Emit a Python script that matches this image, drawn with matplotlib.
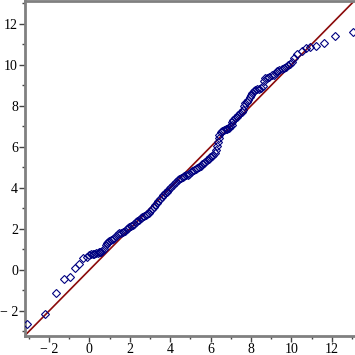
import matplotlib
matplotlib.use("Agg")
import matplotlib.pyplot as plt
from matplotlib.ticker import MultipleLocator, FuncFormatter

theoretical = [-3.07, -2.20, -1.64, -1.26, -0.95, -0.70, -0.50, -0.30, -0.13, -0.02,
               0.10, 0.16, 0.25, 0.33, 0.40, 0.46, 0.52, 0.57, 0.64, 0.72,
               0.80, 0.86, 0.93, 0.99, 1.07, 1.15, 1.23, 1.32, 1.40, 1.48,
               1.58, 1.68, 1.76, 1.85, 1.92, 1.98, 2.06, 2.14, 2.22, 2.30,
               2.38, 2.46, 2.54, 2.62, 2.70, 2.78, 2.86, 2.94, 3.02, 3.10,
               3.18, 3.26, 3.34, 3.42, 3.50, 3.58, 3.66, 3.74, 3.82, 3.90,
               3.98, 4.06, 4.14, 4.22, 4.30, 4.38, 4.46, 4.54, 4.62, 4.70,
               4.78, 4.86, 4.94, 5.02, 5.10, 5.18, 5.26, 5.34, 5.42, 5.50,
               5.58, 5.66, 5.74, 5.82, 5.90, 5.98, 6.06, 6.14, 6.22, 6.28,
               6.32, 6.36, 6.40, 6.44, 6.50, 6.58, 6.66, 6.74, 6.82, 6.90,
               6.98, 7.04, 7.08, 7.12, 7.20, 7.29, 7.38, 7.46, 7.54, 7.60,
               7.66, 7.72, 7.80, 7.87, 7.94, 8.00, 8.06, 8.13, 8.20, 8.30,
               8.40, 8.50, 8.60, 8.66, 8.70, 8.80, 8.90, 9.02, 9.12, 9.22,
               9.30, 9.40, 9.52, 9.62, 9.72, 9.82, 9.92, 10.01, 10.15, 10.29,
               10.51, 10.71, 10.92, 11.22, 11.61, 12.17, 13.06]

sample = [-2.63, -2.14, -1.14, -0.45, -0.36, 0.08, 0.29, 0.57, 0.62, 0.73,
          0.76, 0.78, 0.80, 0.81, 0.84, 0.86, 0.88, 0.89, 0.93, 1.01,
          1.20, 1.30, 1.38, 1.43, 1.47, 1.50, 1.58, 1.66, 1.73, 1.79,
          1.82, 1.85, 1.92, 1.98, 2.03, 2.08, 2.13, 2.18, 2.25, 2.33,
          2.40, 2.45, 2.52, 2.57, 2.62, 2.68, 2.74, 2.80, 2.86, 2.95,
          3.05, 3.15, 3.24, 3.35, 3.46, 3.57, 3.66, 3.74, 3.82, 3.90,
          3.98, 4.06, 4.14, 4.22, 4.30, 4.37, 4.44, 4.50, 4.55, 4.58,
          4.62, 4.65, 4.70, 4.77, 4.82, 4.88, 4.93, 4.98, 5.04, 5.09,
          5.14, 5.20, 5.28, 5.34, 5.42, 5.50, 5.55, 5.62, 5.72, 5.85,
          6.05, 6.25, 6.45, 6.60, 6.72, 6.78, 6.82, 6.85, 6.88, 6.92,
          7.00, 7.07, 7.20, 7.31, 7.40, 7.47, 7.56, 7.64, 7.72, 7.82,
          7.98, 8.12, 8.20, 8.28, 8.42, 8.55, 8.64, 8.72, 8.77, 8.80,
          8.84, 8.88, 8.95, 9.20, 9.34, 9.38, 9.42, 9.48, 9.52, 9.62,
          9.70, 9.76, 9.80, 9.86, 9.90, 9.97, 10.05, 10.15, 10.35, 10.53,
          10.69, 10.80, 10.85, 10.92, 11.05, 11.40, 11.58]

xticks = [-2, 0, 2, 4, 6, 8, 10, 12]
yticks = [-2, 0, 2, 4, 6, 8, 10, 12]

plt.rcParams['font.family'] = ['Liberation Serif', 'DejaVu Serif']

fig = plt.figure(figsize=(3.55, 3.55), dpi=100)
ax = fig.add_axes([25/355, 19/355, 330/355, 335/355])

ax.axline((0, 0), slope=1, color='#8B0A0A', lw=1.2, zorder=2)
ax.plot(theoretical, sample, linestyle='none', marker='D', ms=3.8,
        mfc='none', mec='#000080', mew=0.8, zorder=3)

ax.set_xlim(-3.19, 13.15)
ax.set_ylim(-3.22, 13.11)

def fmt(v, pos):
    v = int(round(v))
    return "\u2212 %d" % abs(v) if v < 0 else "%d" % v

ax.set_xticks(xticks)
ax.set_yticks(yticks)
ax.xaxis.set_major_formatter(FuncFormatter(fmt))
ax.yaxis.set_major_formatter(FuncFormatter(fmt))
ax.xaxis.set_minor_locator(MultipleLocator(1))
ax.yaxis.set_minor_locator(MultipleLocator(1))
ax.tick_params(which='major', length=4, width=1.0, color='#444444',
               labelsize=10, pad=1.0, direction='out')
ax.tick_params(which='minor', length=2, width=1.0, color='#444444', direction='out')

for s in ['left', 'bottom', 'top']:
    ax.spines[s].set_color('#808080')
    ax.spines[s].set_linewidth(2.0)
ax.spines['right'].set_visible(False)
ax.tick_params(top=False, right=False, which='both')

fig.savefig('out.png', dpi=100)
